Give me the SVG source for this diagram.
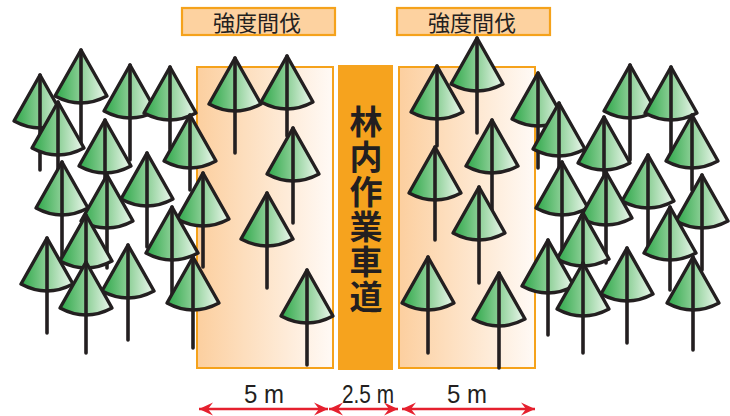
<svg xmlns="http://www.w3.org/2000/svg" xmlns:xlink="http://www.w3.org/1999/xlink" width="730" height="416" viewBox="0 0 730 416">
  <style>
    .cone { fill: url(#coneFill); stroke: #231f20; stroke-width: 3.4; stroke-linejoin: round; }
    .trunk { stroke: #231f20; stroke-width: 3.6; stroke-linecap: round; }
    .strip { fill: url(#stripFill); stroke: #f5a21b; stroke-width: 2; }
    .tag { fill: #fdd2a0; stroke: #f5a21b; stroke-width: 2.2; }
    .tagText { font-family: "Noto Sans CJK JP", sans-serif; font-size: 22px; fill: #231f20; text-anchor: middle; }
    .roadText { font-family: "Noto Sans CJK JP", sans-serif; font-size: 33px; font-weight: 700; fill: #231f20; writing-mode: vertical-rl; letter-spacing: 2px; }
    .dim { stroke: #e5202e; stroke-width: 2.4; fill: none; }
    .dimText { font-family: "Liberation Sans", Arial, sans-serif; font-size: 26px; fill: #231f20; text-anchor: middle; }
  </style>
  <defs>
    <linearGradient id="coneFill" x1="0" y1="0" x2="1" y2="0">
      <stop offset="0" stop-color="#2ea84a"/>
      <stop offset="0.5" stop-color="#8ccf96"/>
      <stop offset="1" stop-color="#eef8ef"/>
    </linearGradient>
    <linearGradient id="stripFill" x1="0" y1="0" x2="1" y2="0">
      <stop offset="0" stop-color="#fccf9f"/>
      <stop offset="1" stop-color="#fffaf6"/>
    </linearGradient>
    <path id="cone" class="cone" d="M0,0 L-26,46 Q0,60 26,46 Z"/>
    <marker id="head" viewBox="-14 -7 15 14" refX="0" refY="0" markerWidth="15" markerHeight="14" markerUnits="userSpaceOnUse" orient="auto-start-reverse">
      <path d="M0,0 L-14,-6.5 L-9,0 L-14,6.5 Z" fill="#e5202e"/>
    </marker>
  </defs>

  <rect width="730" height="416" fill="#ffffff"/>

  <!-- thinning strips and the forest road between them -->
  <g id="strip-left"><rect class="strip" x="197" y="67" width="136" height="301"/></g>
  <g id="strip-right"><rect class="strip" x="399" y="67" width="136" height="301"/></g>
  <g id="road">
    <rect x="338" y="65" width="55" height="305" fill="#f6a31e"/>
    <text class="roadText" x="366" y="105">林内作業車道</text>
  </g>

  <!-- labels above the strips -->
  <g id="tag-left">
    <rect class="tag" x="182" y="8" width="153" height="27"/>
    <text class="tagText" x="257" y="31">強度間伐</text>
  </g>
  <g id="tag-right">
    <rect class="tag" x="397" y="8" width="153" height="27"/>
    <text class="tagText" x="472" y="31">強度間伐</text>
  </g>

  <!-- trees, back to front -->
  <g id="trees">
    <g transform="translate(477,38)"><use xlink:href="#cone"/><line class="trunk" x2="0" y2="95"/></g>
    <g transform="translate(81,50)"><use xlink:href="#cone"/><line class="trunk" x2="0" y2="95"/></g>
    <g transform="translate(287,56)"><use xlink:href="#cone"/><line class="trunk" x2="0" y2="80"/></g>
    <g transform="translate(235,58)"><use xlink:href="#cone"/><line class="trunk" x2="0" y2="95"/></g>
    <g transform="translate(130,65)"><use xlink:href="#cone"/><line class="trunk" x2="0" y2="95"/></g>
    <g transform="translate(630,65)"><use xlink:href="#cone"/><line class="trunk" x2="0" y2="95"/></g>
    <g transform="translate(437,66)"><use xlink:href="#cone"/><line class="trunk" x2="0" y2="80"/></g>
    <g transform="translate(170,67)"><use xlink:href="#cone"/><line class="trunk" x2="0" y2="82"/></g>
    <g transform="translate(671,67)"><use xlink:href="#cone"/><line class="trunk" x2="0" y2="85"/></g>
    <g transform="translate(538,73)"><use xlink:href="#cone"/><line class="trunk" x2="0" y2="95"/></g>
    <g transform="translate(40,75)"><use xlink:href="#cone"/><line class="trunk" x2="0" y2="95"/></g>
    <g transform="translate(58,102)"><use xlink:href="#cone"/><line class="trunk" x2="0" y2="90"/></g>
    <g transform="translate(559,103)"><use xlink:href="#cone"/><line class="trunk" x2="0" y2="90"/></g>
    <g transform="translate(190,115)"><use xlink:href="#cone"/><line class="trunk" x2="0" y2="75"/></g>
    <g transform="translate(692,115)"><use xlink:href="#cone"/><line class="trunk" x2="0" y2="75"/></g>
    <g transform="translate(604,117)"><use xlink:href="#cone"/><line class="trunk" x2="0" y2="90"/></g>
    <g transform="translate(105,120)"><use xlink:href="#cone"/><line class="trunk" x2="0" y2="90"/></g>
    <g transform="translate(492,120)"><use xlink:href="#cone"/><line class="trunk" x2="0" y2="95"/></g>
    <g transform="translate(293,128)"><use xlink:href="#cone"/><line class="trunk" x2="0" y2="95"/></g>
    <g transform="translate(435,147)"><use xlink:href="#cone"/><line class="trunk" x2="0" y2="93"/></g>
    <g transform="translate(147,153)"><use xlink:href="#cone"/><line class="trunk" x2="0" y2="94"/></g>
    <g transform="translate(648,155)"><use xlink:href="#cone"/><line class="trunk" x2="0" y2="92"/></g>
    <g transform="translate(62,162)"><use xlink:href="#cone"/><line class="trunk" x2="0" y2="95"/></g>
    <g transform="translate(562,162)"><use xlink:href="#cone"/><line class="trunk" x2="0" y2="91"/></g>
    <g transform="translate(606,172)"><use xlink:href="#cone"/><line class="trunk" x2="0" y2="91"/></g>
    <g transform="translate(203,173)"><use xlink:href="#cone"/><line class="trunk" x2="0" y2="94"/></g>
    <g transform="translate(107,175)"><use xlink:href="#cone"/><line class="trunk" x2="0" y2="93"/></g>
    <g transform="translate(702,175)"><use xlink:href="#cone"/><line class="trunk" x2="0" y2="95"/></g>
    <g transform="translate(479,187)"><use xlink:href="#cone"/><line class="trunk" x2="0" y2="96"/></g>
    <g transform="translate(267,193)"><use xlink:href="#cone"/><line class="trunk" x2="0" y2="95"/></g>
    <g transform="translate(172,207)"><use xlink:href="#cone"/><line class="trunk" x2="0" y2="90"/></g>
    <g transform="translate(670,207)"><use xlink:href="#cone"/><line class="trunk" x2="0" y2="83"/></g>
    <g transform="translate(583,213)"><use xlink:href="#cone"/><line class="trunk" x2="0" y2="90"/></g>
    <g transform="translate(86,215)"><use xlink:href="#cone"/><line class="trunk" x2="0" y2="90"/></g>
    <g transform="translate(47,238)"><use xlink:href="#cone"/><line class="trunk" x2="0" y2="95"/></g>
    <g transform="translate(548,240)"><use xlink:href="#cone"/><line class="trunk" x2="0" y2="95"/></g>
    <g transform="translate(128,245)"><use xlink:href="#cone"/><line class="trunk" x2="0" y2="95"/></g>
    <g transform="translate(627,248)"><use xlink:href="#cone"/><line class="trunk" x2="0" y2="95"/></g>
    <g transform="translate(193,257)"><use xlink:href="#cone"/><line class="trunk" x2="0" y2="91"/></g>
    <g transform="translate(428,257)"><use xlink:href="#cone"/><line class="trunk" x2="0" y2="96"/></g>
    <g transform="translate(693,257)"><use xlink:href="#cone"/><line class="trunk" x2="0" y2="93"/></g>
    <g transform="translate(86,262)"><use xlink:href="#cone"/><line class="trunk" x2="0" y2="91"/></g>
    <g transform="translate(583,263)"><use xlink:href="#cone"/><line class="trunk" x2="0" y2="90"/></g>
    <g transform="translate(307,270)"><use xlink:href="#cone"/><line class="trunk" x2="0" y2="95"/></g>
    <g transform="translate(499,273)"><use xlink:href="#cone"/><line class="trunk" x2="0" y2="95"/></g>
  </g>

  <!-- width dimensions -->
  <g id="dimensions">
    <line class="dim" x1="199" y1="409" x2="328" y2="409" marker-start="url(#head)" marker-end="url(#head)"/>
    <line class="dim" x1="329" y1="409" x2="398" y2="409" marker-start="url(#head)" marker-end="url(#head)"/>
    <line class="dim" x1="402" y1="409" x2="535" y2="409" marker-start="url(#head)" marker-end="url(#head)"/>
  </g>
  <text class="dimText" x="264" y="403" textLength="40" lengthAdjust="spacingAndGlyphs">5 m</text>
  <text class="dimText" x="368" y="403" textLength="52" lengthAdjust="spacingAndGlyphs">2.5 m</text>
  <text class="dimText" x="467" y="403" textLength="40" lengthAdjust="spacingAndGlyphs">5 m</text>
</svg>
